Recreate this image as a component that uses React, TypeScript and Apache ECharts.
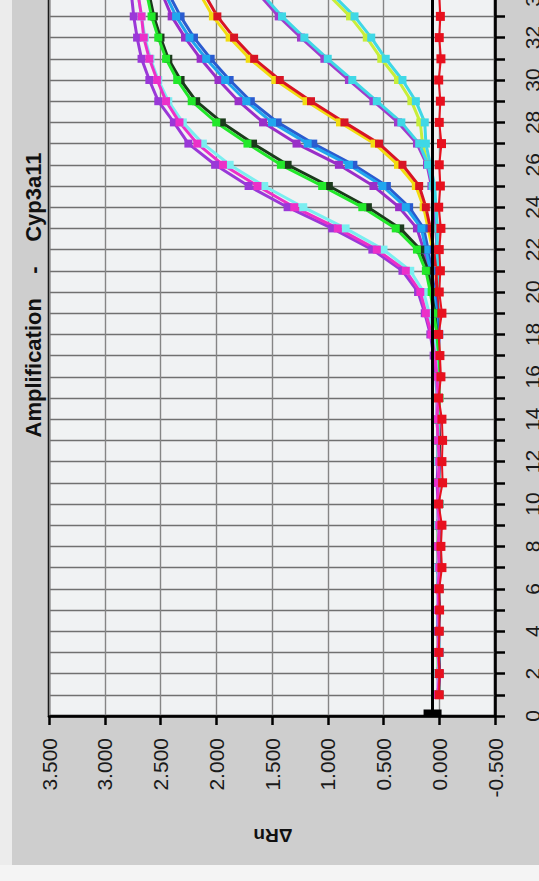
import React, { useEffect, useRef } from "react";
import * as echarts from "echarts";

// Cycle numbers (vertical axis after rotation)
const cycles = [1, 2, 3, 4, 5, 6, 7, 8, 9, 10, 11, 12, 13, 14, 15, 16, 17, 18, 19, 20, 21, 22, 23, 24, 25, 26, 27, 28, 29, 30, 31, 32, 33, 34, 35];

// ΔRn values per well, one value per cycle
const pinkA = [0.01, 0.0, 0.01, 0.0, 0.01, 0.01, 0.0, 0.01, 0.0, 0.01, 0.01, 0.0, 0.01, 0.02, 0.01, 0.02, 0.04, 0.07, 0.12, 0.17, 0.3, 0.56, 0.91, 1.3, 1.63, 1.94, 2.17, 2.33, 2.45, 2.53, 2.6, 2.65, 2.67, 2.7, 2.72];
const cyanA = [0.0, 0.01, 0.0, 0.0, 0.01, 0.0, 0.01, 0.0, 0.01, 0.0, 0.0, 0.01, 0.01, 0.01, 0.02, 0.02, 0.03, 0.05, 0.09, 0.14, 0.26, 0.5, 0.84, 1.22, 1.57, 1.88, 2.12, 2.3, 2.43, 2.52, 2.59, 2.64, 2.67, 2.7, 2.72];
const violetA = [0.01, 0.01, 0.0, 0.01, 0.01, 0.0, 0.01, 0.01, 0.0, 0.01, 0.02, 0.01, 0.01, 0.02, 0.02, 0.03, 0.05, 0.08, 0.13, 0.19, 0.33, 0.6, 0.96, 1.36, 1.71, 2.01, 2.25, 2.38, 2.52, 2.6, 2.67, 2.71, 2.74, 2.76, 2.78];
const greenB = [0.0, 0.01, 0.01, 0.0, 0.01, 0.0, 0.01, 0.01, 0.0, 0.01, 0.0, 0.01, 0.01, 0.01, 0.0, 0.01, 0.01, 0.02, 0.05, 0.08, 0.12, 0.2, 0.39, 0.69, 1.05, 1.42, 1.72, 2.0, 2.22, 2.35, 2.45, 2.52, 2.58, 2.62, 2.65];
const darkB = [0.01, 0.0, 0.0, 0.01, 0.0, 0.01, 0.0, 0.0, 0.01, 0.0, 0.01, 0.0, 0.0, 0.01, 0.01, 0.0, 0.01, 0.02, 0.04, 0.07, 0.1, 0.17, 0.35, 0.64, 0.99, 1.36, 1.67, 1.95, 2.18, 2.32, 2.43, 2.5, 2.56, 2.6, 2.63];
const lightBlueC = [0.0, 0.01, 0.0, 0.01, 0.01, 0.0, 0.0, 0.01, 0.01, 0.0, 0.01, 0.0, 0.01, 0.01, 0.0, 0.01, 0.01, 0.02, 0.03, 0.05, 0.08, 0.12, 0.16, 0.3, 0.51, 0.81, 1.18, 1.5, 1.73, 1.92, 2.09, 2.24, 2.36, 2.45, 2.52];
const blueC = [0.01, 0.0, 0.01, 0.0, 0.0, 0.01, 0.01, 0.0, 0.0, 0.01, 0.0, 0.01, 0.0, 0.01, 0.01, 0.0, 0.01, 0.01, 0.02, 0.04, 0.07, 0.1, 0.14, 0.27, 0.47, 0.77, 1.13, 1.45, 1.69, 1.88, 2.05, 2.2, 2.32, 2.42, 2.49];
const purpleC = [0.0, 0.0, 0.01, 0.01, 0.0, 0.0, 0.01, 0.0, 0.01, 0.01, 0.0, 0.0, 0.01, 0.0, 0.01, 0.01, 0.02, 0.02, 0.03, 0.06, 0.09, 0.14, 0.2, 0.36, 0.59, 0.9, 1.28, 1.58, 1.8, 1.98, 2.14, 2.28, 2.4, 2.48, 2.55];
const redD = [0.0, 0.01, 0.0, 0.0, 0.01, 0.0, 0.01, 0.0, 0.0, 0.01, 0.0, 0.01, 0.0, 0.0, 0.01, 0.01, 0.0, 0.01, 0.01, 0.02, 0.03, 0.05, 0.08, 0.12, 0.18, 0.33, 0.54, 0.85, 1.15, 1.43, 1.66, 1.84, 1.99, 2.1, 2.2];
const yellowD = [0.01, 0.0, 0.01, 0.01, 0.0, 0.01, 0.0, 0.01, 0.01, 0.0, 0.01, 0.0, 0.01, 0.01, 0.0, 0.01, 0.01, 0.01, 0.02, 0.02, 0.03, 0.06, 0.1, 0.14, 0.21, 0.37, 0.58, 0.89, 1.19, 1.47, 1.7, 1.88, 2.03, 2.14, 2.24];
const purpleE = [0.01, 0.0, 0.0, 0.01, 0.01, 0.0, 0.01, 0.0, 0.01, 0.0, 0.01, 0.01, 0.0, 0.01, 0.0, 0.01, 0.01, 0.0, 0.01, 0.01, 0.02, 0.02, 0.03, 0.04, 0.07, 0.11, 0.2, 0.37, 0.59, 0.81, 1.03, 1.24, 1.44, 1.61, 1.75];
const cyanE = [0.0, 0.01, 0.0, 0.0, 0.01, 0.01, 0.0, 0.0, 0.01, 0.01, 0.0, 0.01, 0.01, 0.0, 0.01, 0.0, 0.01, 0.01, 0.0, 0.01, 0.01, 0.02, 0.02, 0.03, 0.06, 0.1, 0.18, 0.34, 0.56, 0.78, 1.0, 1.21, 1.41, 1.58, 1.72];
const limeF = [0.01, 0.0, 0.01, 0.0, 0.01, 0.0, 0.0, 0.01, 0.01, 0.0, 0.01, 0.0, 0.01, 0.01, 0.0, 0.01, 0.0, 0.01, 0.01, 0.01, 0.02, 0.02, 0.03, 0.04, 0.06, 0.1, 0.15, 0.17, 0.25, 0.37, 0.52, 0.65, 0.8, 0.99, 1.16];
const cyanF = [0.0, 0.01, 0.0, 0.01, 0.0, 0.01, 0.01, 0.0, 0.0, 0.01, 0.0, 0.01, 0.0, 0.01, 0.01, 0.0, 0.01, 0.0, 0.01, 0.01, 0.01, 0.02, 0.02, 0.03, 0.04, 0.08, 0.12, 0.13, 0.21, 0.33, 0.48, 0.61, 0.76, 0.95, 1.12];
const ntcRed = [0.0, 0.0, 0.003, 0.0, -0.003, 0.0, -0.024, -0.015, -0.024, 0.006, -0.03, -0.024, -0.03, -0.024, 0.006, -0.015, -0.006, 0.006, -0.024, 0.0, -0.01, 0.0, -0.015, 0.005, -0.01, 0.0, -0.02, 0.0, -0.01, 0.005, -0.015, 0.0, -0.01, 0.0, -0.01];

const threshold = 0.06;

const titleText = "Amplification    -    Cyp3a11";
const yName = "ΔRn";

const FONT = '"Liberation Sans", Arial, Helvetica, sans-serif';

export default function App() {
  const ref = useRef<HTMLDivElement>(null);

  useEffect(() => {
    if (!ref.current) return;
    const chart = echarts.init(ref.current, null, { renderer: "svg" });

    const mk = (name: string, vals: number[], color: string, z: number, size = 8, width = 3) => ({
      name,
      type: "line",
      data: cycles.map((c, i) => [vals[i], c]),
      symbol: "rect",
      symbolSize: size,
      showSymbol: true,
      lineStyle: { color, width },
      itemStyle: { color },
      z,
      animation: false,
      silent: true,
    });

    const series: any[] = [
      mk("limeF", limeF, "#c8ee3a", 2),
      mk("cyanF", cyanF, "#3fd8e6", 2),
      mk("purpleE", purpleE, "#a03ccc", 2),
      mk("cyanE", cyanE, "#3fd8e6", 2),
      mk("yellowD", yellowD, "#f2dc10", 2),
      mk("redD", redD, "#d81424", 2),
      mk("purpleC", purpleC, "#9a2ec8", 2),
      mk("blueC", blueC, "#2a5cd0", 2),
      mk("lightBlueC", lightBlueC, "#20a6ee", 2),
      mk("darkB", darkB, "#1c3a1c", 2),
      mk("greenB", greenB, "#22e82a", 2),
      mk("violetA", violetA, "#9a38d8", 2),
      mk("cyanA", cyanA, "#7aeef0", 2),
      mk("pinkA", pinkA, "#ec30c8", 2),
      {
        ...mk("ntc", ntcRed, "#e8101e", 4, 9, 2),
        markLine: {
          silent: true,
          symbol: "none",
          label: { show: false },
          lineStyle: { color: "#000", width: 3, type: "solid" },
          data: [{ xAxis: threshold }],
          animation: false,
        },
        markPoint: {
          silent: true,
          symbol: "rect",
          symbolSize: [18, 7],
          symbolOffset: [0, -3],
          itemStyle: { color: "#000" },
          label: { show: false },
          data: [{ coord: [threshold, 0] }],
          animation: false,
        },
      },
    ];

    chart.setOption({
      animation: false,
      backgroundColor: "#cecece",
      textStyle: { fontFamily: FONT },
      grid: {
        left: 49,
        right: 44,
        top: -132,
        bottom: 165,
        show: true,
        backgroundColor: "#f0f2f3",
        borderColor: "#000",
        borderWidth: 2.5,
        containLabel: false,
        outerBoundsMode: "none",
      },
      xAxis: {
        type: "value",
        position: "bottom",
        inverse: true,
        min: -0.5,
        max: 3.5,
        interval: 0.5,
        axisLine: { show: true, onZero: false, lineStyle: { color: "#000", width: 2.5 } },
        axisTick: { show: true, length: 9, lineStyle: { color: "#000", width: 2.5 } },
        axisLabel: {
          rotate: 90,
          margin: 22,
          fontSize: 21,
          color: "#1a1a1a",
          fontFamily: FONT,
          formatter: (v: number) => v.toFixed(3),
        },
        splitLine: { show: true, lineStyle: { color: "#858585", width: 1.4 } },
      },
      yAxis: {
        type: "value",
        position: "right",
        min: 0,
        max: 40,
        interval: 1,
        axisLine: { show: true, onZero: false, lineStyle: { color: "#000", width: 2.5 } },
        axisTick: { show: true, length: 10, lineStyle: { color: "#000", width: 2.5 } },
        axisLabel: {
          rotate: 90,
          margin: 27,
          fontSize: 21,
          color: "#1a1a1a",
          fontFamily: FONT,
          formatter: (v: number) => (v % 2 === 0 ? String(v) : ""),
        },
        splitLine: { show: true, lineStyle: { color: "#707070", width: 1.4 } },
      },
      graphic: [
        { type: "rect", shape: { x: 0, y: 0, width: 12, height: 881 }, style: { fill: "#ececec" }, silent: true },
        { type: "rect", shape: { x: 0, y: 865, width: 539, height: 16 }, style: { fill: "#f4f4f4" }, silent: true },
        {
          type: "text",
          x: 33,
          y: 295,
          rotation: Math.PI / 2,
          silent: true,
          style: {
            text: titleText,
            align: "center",
            verticalAlign: "middle",
            fill: "#111",
            font: `bold 22px ${FONT}`,
          },
        },
        {
          type: "text",
          x: 273,
          y: 835,
          rotation: Math.PI,
          silent: true,
          style: {
            text: yName,
            align: "center",
            verticalAlign: "middle",
            fill: "#111",
            font: `bold 19px ${FONT}`,
          },
        },
      ],
      series,
    });

    return () => chart.dispose();
  }, []);

  return <div ref={ref} style={{ position: "absolute", left: 0, top: 0, width: 539, height: 881 }} />;
}
